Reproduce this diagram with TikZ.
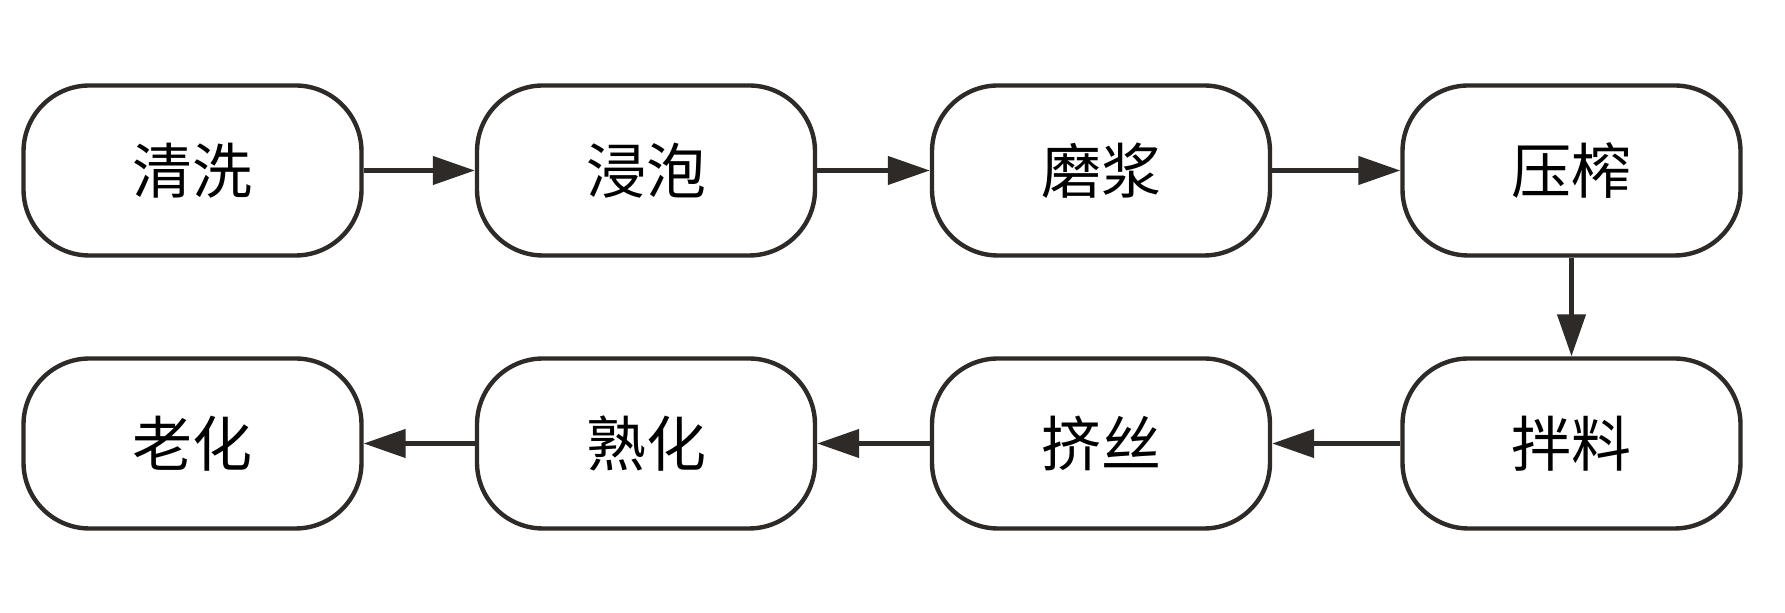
\documentclass[tikz,border=0pt]{standalone}
\usepackage{fontspec}
\setmainfont{Noto Sans CJK SC}
\usetikzlibrary{arrows.meta}
\definecolor{ink}{RGB}{45,42,40}
\begin{document}
\begin{tikzpicture}[x=0.5pt,y=-0.5pt,
  stepbox/.style={draw=ink, line width=2.2pt, fill=white, rectangle, rounded corners=33pt,
    minimum width=169pt, minimum height=85pt, inner sep=0pt,
    font=\fontsize{30}{36}\selectfont, text=black},
  flow/.style={draw=ink, line width=2.2pt, -{Triangle[length=21pt,width=14pt]}}]
\useasboundingbox (0,0) rectangle (1785,613);
\node[stepbox] (a1) at (192.5,170.5) {清洗};
\node[stepbox] (a2) at (646,170.5) {浸泡};
\node[stepbox] (a3) at (1101,170.5) {磨浆};
\node[stepbox] (a4) at (1571.5,170.5) {压榨};
\node[stepbox] (b4) at (1571.5,443.5) {拌料};
\node[stepbox] (b3) at (1101,443.5) {挤丝};
\node[stepbox] (b2) at (646,443.5) {熟化};
\node[stepbox] (b1) at (192.5,443.5) {老化};
\draw[flow] (a1) -- (a2);
\draw[flow] (a2) -- (a3);
\draw[flow] (a3) -- (a4);
\draw[flow] (a4) -- (b4);
\draw[flow] (b4) -- (b3);
\draw[flow] (b3) -- (b2);
\draw[flow] (b2) -- (b1);
\end{tikzpicture}
\end{document}
